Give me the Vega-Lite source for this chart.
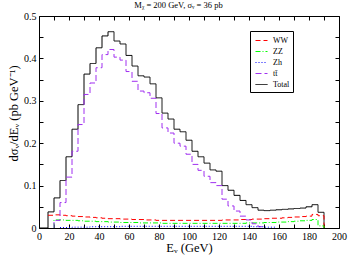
{
  "$schema": "https://vega.github.io/schema/vega-lite/v6.json",
  "width": 300,
  "height": 212,
  "autosize": {"type": "none"},
  "padding": {"left": 39, "top": 16, "right": 10, "bottom": 29},
  "background": "white",
  "data": {"values": [
    {"E": 0, "Total": 0},
    {"E": 6, "WW": 0.030, "Total": 0.038},
    {"E": 10, "ZZ": 0, "tt": 0},
    {"E": 10, "WW": 0.031, "ZZ": 0.019, "tt": 0.018, "Total": 0.071},
    {"E": 14, "WW": 0.030, "ZZ": 0.019, "Zh": 0.001, "tt": 0.060, "Total": 0.112},
    {"E": 18, "WW": 0.029, "ZZ": 0.018, "Zh": 0.001, "tt": 0.120, "Total": 0.168},
    {"E": 22, "WW": 0.028, "ZZ": 0.018, "Zh": 0.002, "tt": 0.181, "Total": 0.233},
    {"E": 26, "WW": 0.027, "ZZ": 0.017, "Zh": 0.002, "tt": 0.244, "Total": 0.291},
    {"E": 30, "WW": 0.026, "ZZ": 0.016, "Zh": 0.002, "tt": 0.315, "Total": 0.363},
    {"E": 34, "WW": 0.025, "ZZ": 0.016, "Zh": 0.003, "tt": 0.342, "Total": 0.388},
    {"E": 38, "WW": 0.024, "ZZ": 0.015, "Zh": 0.003, "tt": 0.378, "Total": 0.425},
    {"E": 42, "WW": 0.023, "ZZ": 0.015, "Zh": 0.003, "tt": 0.409, "Total": 0.453},
    {"E": 46, "WW": 0.022, "ZZ": 0.014, "Zh": 0.003, "tt": 0.421, "Total": 0.463},
    {"E": 50, "WW": 0.022, "ZZ": 0.014, "Zh": 0.003, "tt": 0.403, "Total": 0.441},
    {"E": 54, "WW": 0.021, "ZZ": 0.013, "Zh": 0.004, "tt": 0.396, "Total": 0.434},
    {"E": 58, "WW": 0.021, "ZZ": 0.013, "Zh": 0.004, "tt": 0.369, "Total": 0.407},
    {"E": 62, "WW": 0.020, "ZZ": 0.013, "Zh": 0.004, "tt": 0.346, "Total": 0.382},
    {"E": 66, "WW": 0.020, "ZZ": 0.012, "Zh": 0.004, "tt": 0.323, "Total": 0.359},
    {"E": 70, "WW": 0.019, "ZZ": 0.012, "Zh": 0.004, "tt": 0.319, "Total": 0.356},
    {"E": 74, "WW": 0.019, "ZZ": 0.012, "Zh": 0.004, "tt": 0.306, "Total": 0.340},
    {"E": 78, "WW": 0.018, "ZZ": 0.012, "Zh": 0.004, "tt": 0.270, "Total": 0.307},
    {"E": 82, "WW": 0.018, "ZZ": 0.011, "Zh": 0.004, "tt": 0.236, "Total": 0.271},
    {"E": 86, "WW": 0.018, "ZZ": 0.011, "Zh": 0.004, "tt": 0.224, "Total": 0.257},
    {"E": 90, "WW": 0.018, "ZZ": 0.011, "Zh": 0.004, "tt": 0.200, "Total": 0.233},
    {"E": 94, "WW": 0.018, "ZZ": 0.011, "Zh": 0.004, "tt": 0.193, "Total": 0.227},
    {"E": 98, "WW": 0.018, "ZZ": 0.011, "Zh": 0.004, "tt": 0.174, "Total": 0.207},
    {"E": 102, "WW": 0.018, "ZZ": 0.011, "Zh": 0.004, "tt": 0.150, "Total": 0.181},
    {"E": 106, "WW": 0.018, "ZZ": 0.011, "Zh": 0.004, "tt": 0.136, "Total": 0.168},
    {"E": 110, "WW": 0.018, "ZZ": 0.011, "Zh": 0.004, "tt": 0.122, "Total": 0.153},
    {"E": 114, "WW": 0.018, "ZZ": 0.011, "Zh": 0.004, "tt": 0.107, "Total": 0.137},
    {"E": 118, "WW": 0.018, "ZZ": 0.011, "Zh": 0.004, "tt": 0.100, "Total": 0.134},
    {"E": 122, "WW": 0.019, "ZZ": 0.011, "Zh": 0.004, "tt": 0.068, "Total": 0.100},
    {"E": 126, "WW": 0.019, "ZZ": 0.011, "Zh": 0.004, "tt": 0.052, "Total": 0.089},
    {"E": 130, "WW": 0.019, "ZZ": 0.011, "Zh": 0.004, "tt": 0.040, "Total": 0.077},
    {"E": 134, "WW": 0.020, "ZZ": 0.011, "Zh": 0.004, "tt": 0.028, "Total": 0.065},
    {"E": 138, "WW": 0.020, "ZZ": 0.012, "Zh": 0.004, "tt": 0.019, "Total": 0.055},
    {"E": 142, "WW": 0.021, "ZZ": 0.012, "Zh": 0.003, "tt": 0.010, "Total": 0.048},
    {"E": 146, "WW": 0.021, "ZZ": 0.012, "Zh": 0.003, "tt": 0.003, "Total": 0.042},
    {"E": 150, "WW": 0.022, "ZZ": 0.013, "Zh": 0.002, "tt": 0, "Total": 0.041},
    {"E": 154, "WW": 0.023, "ZZ": 0.013, "Zh": 0.002, "Total": 0.042},
    {"E": 158, "WW": 0.023, "ZZ": 0.014, "Zh": 0, "Total": 0.043},
    {"E": 162, "WW": 0.024, "ZZ": 0.014, "Total": 0.044},
    {"E": 166, "WW": 0.025, "ZZ": 0.015, "Total": 0.045},
    {"E": 170, "WW": 0.026, "ZZ": 0.016, "Total": 0.046},
    {"E": 174, "WW": 0.027, "ZZ": 0.017, "Total": 0.047},
    {"E": 178, "WW": 0.028, "ZZ": 0.018, "Total": 0.050},
    {"E": 182, "WW": 0.032, "ZZ": 0.020, "Total": 0.055},
    {"E": 186, "WW": 0.029, "ZZ": 0.005, "Total": 0.037},
    {"E": 190, "WW": 0, "ZZ": 0, "Total": 0}
  ]},
  "transform": [
    {"fold": ["WW", "ZZ", "Zh", "tt", "Total"], "as": ["s", "v"]},
    {"filter": "isValid(datum.v)"}
  ],
  "layer": [
    {
      "mark": {"type": "line", "interpolate": "step-after", "clip": true},
      "encoding": {
        "x": {"field": "E", "type": "quantitative", "scale": {"domain": [0, 200], "nice": false, "zero": false},
              "axis": {"orient": "bottom", "values": [0,10,20,30,40,50,60,70,80,90,100,110,120,130,140,150,160,170,180,190,200],
                       "labelExpr": "datum.value % 20 === 0 ? format(datum.value, 'd') : ''",
                       "title": "Eᵥ (GeV)", "titleY": 23, "titleBaseline": "alphabetic"}},
        "y": {"field": "v", "type": "quantitative", "scale": {"domain": [0, 0.5], "nice": false},
              "axis": {"orient": "left", "values": [0,0.05,0.1,0.15,0.2,0.25,0.3,0.35,0.4,0.45,0.5],
                       "labelExpr": "abs(datum.value*10 - round(datum.value*10)) < 0.001 ? (datum.value === 0 ? '0' : format(datum.value, '.1f')) : ''",
                       "title": "dσᵥ/dEᵥ (pb GeV⁻¹)", "titleX": -22, "titleY": 97, "titleBaseline": "alphabetic"}},
        "color": {"field": "s", "type": "nominal",
                  "scale": {"domain": ["WW", "ZZ", "Zh", "tt", "Total"], "range": ["#ff0000", "#00ff00", "#0000ff", "#a030f0", "#000000"]},
                  "legend": {"orient": "none", "legendX": 211, "legendY": 15, "title": null, "labelExpr": "datum.label === 'tt' ? 'tt̄' : datum.label"}},
        "strokeDash": {"field": "s", "type": "nominal",
                  "scale": {"domain": ["WW", "ZZ", "Zh", "tt", "Total"], "range": [[5, 3], [5, 2, 1, 2], [1, 2], [6, 3], [1, 0]]},
                  "legend": {"orient": "none", "legendX": 211, "legendY": 15, "title": null, "labelExpr": "datum.label === 'tt' ? 'tt̄' : datum.label"}},
        "strokeWidth": {"field": "s", "type": "nominal",
                  "scale": {"domain": ["WW", "ZZ", "Zh", "tt", "Total"], "range": [1, 1, 1, 1.8, 1.5]},
                  "legend": {"orient": "none", "legendX": 211, "legendY": 15, "title": null, "labelExpr": "datum.label === 'tt' ? 'tt̄' : datum.label"}},
        "order": {"value": null}
      }
    },
    {
      "mark": {"type": "point", "opacity": 0},
      "encoding": {
        "x": {"field": "E", "type": "quantitative", "scale": {"domain": [0, 200], "nice": false, "zero": false},
              "axis": {"orient": "top", "labels": false, "values": [0,10,20,30,40,50,60,70,80,90,100,110,120,130,140,150,160,170,180,190,200],
                       "title": "Mᵪ = 200 GeV, σᵥ = 36 pb", "titleFontSize": 8.5, "titleX": 139, "titleY": -9, "titleBaseline": "alphabetic", "titleAlign": "center", "titleAnchor": null}},
        "y": {"field": "v", "type": "quantitative", "scale": {"domain": [0, 0.5], "nice": false},
              "axis": {"orient": "right", "labels": false, "title": null, "values": [0,0.05,0.1,0.15,0.2,0.25,0.3,0.35,0.4,0.45,0.5]}}
      }
    }
  ],
  "resolve": {"axis": {"x": "independent", "y": "independent"}},
  "config": {
    "view": {"stroke": "black", "strokeWidth": 1},
    "axis": {
      "domain": false, "grid": false,
      "tickColor": "black", "tickSize": -4, "tickWidth": 1,
      "labelFont": "Liberation Serif", "labelFontSize": 10, "labelColor": "black", "labelPadding": 7,
      "labelFlush": false, "labelOverlap": false,
      "titleFont": "Liberation Serif", "titleFontSize": 12.5, "titleFontWeight": "normal", "titleColor": "black"
    },
    "legend": {
      "fillColor": "white", "strokeColor": "black", "padding": 3,
      "labelFont": "Liberation Serif", "labelFontSize": 8, "labelColor": "black",
      "symbolType": "stroke", "symbolSize": 144, "symbolOffset": 2, "rowPadding": -3, "labelOffset": 5
    }
  }
}
